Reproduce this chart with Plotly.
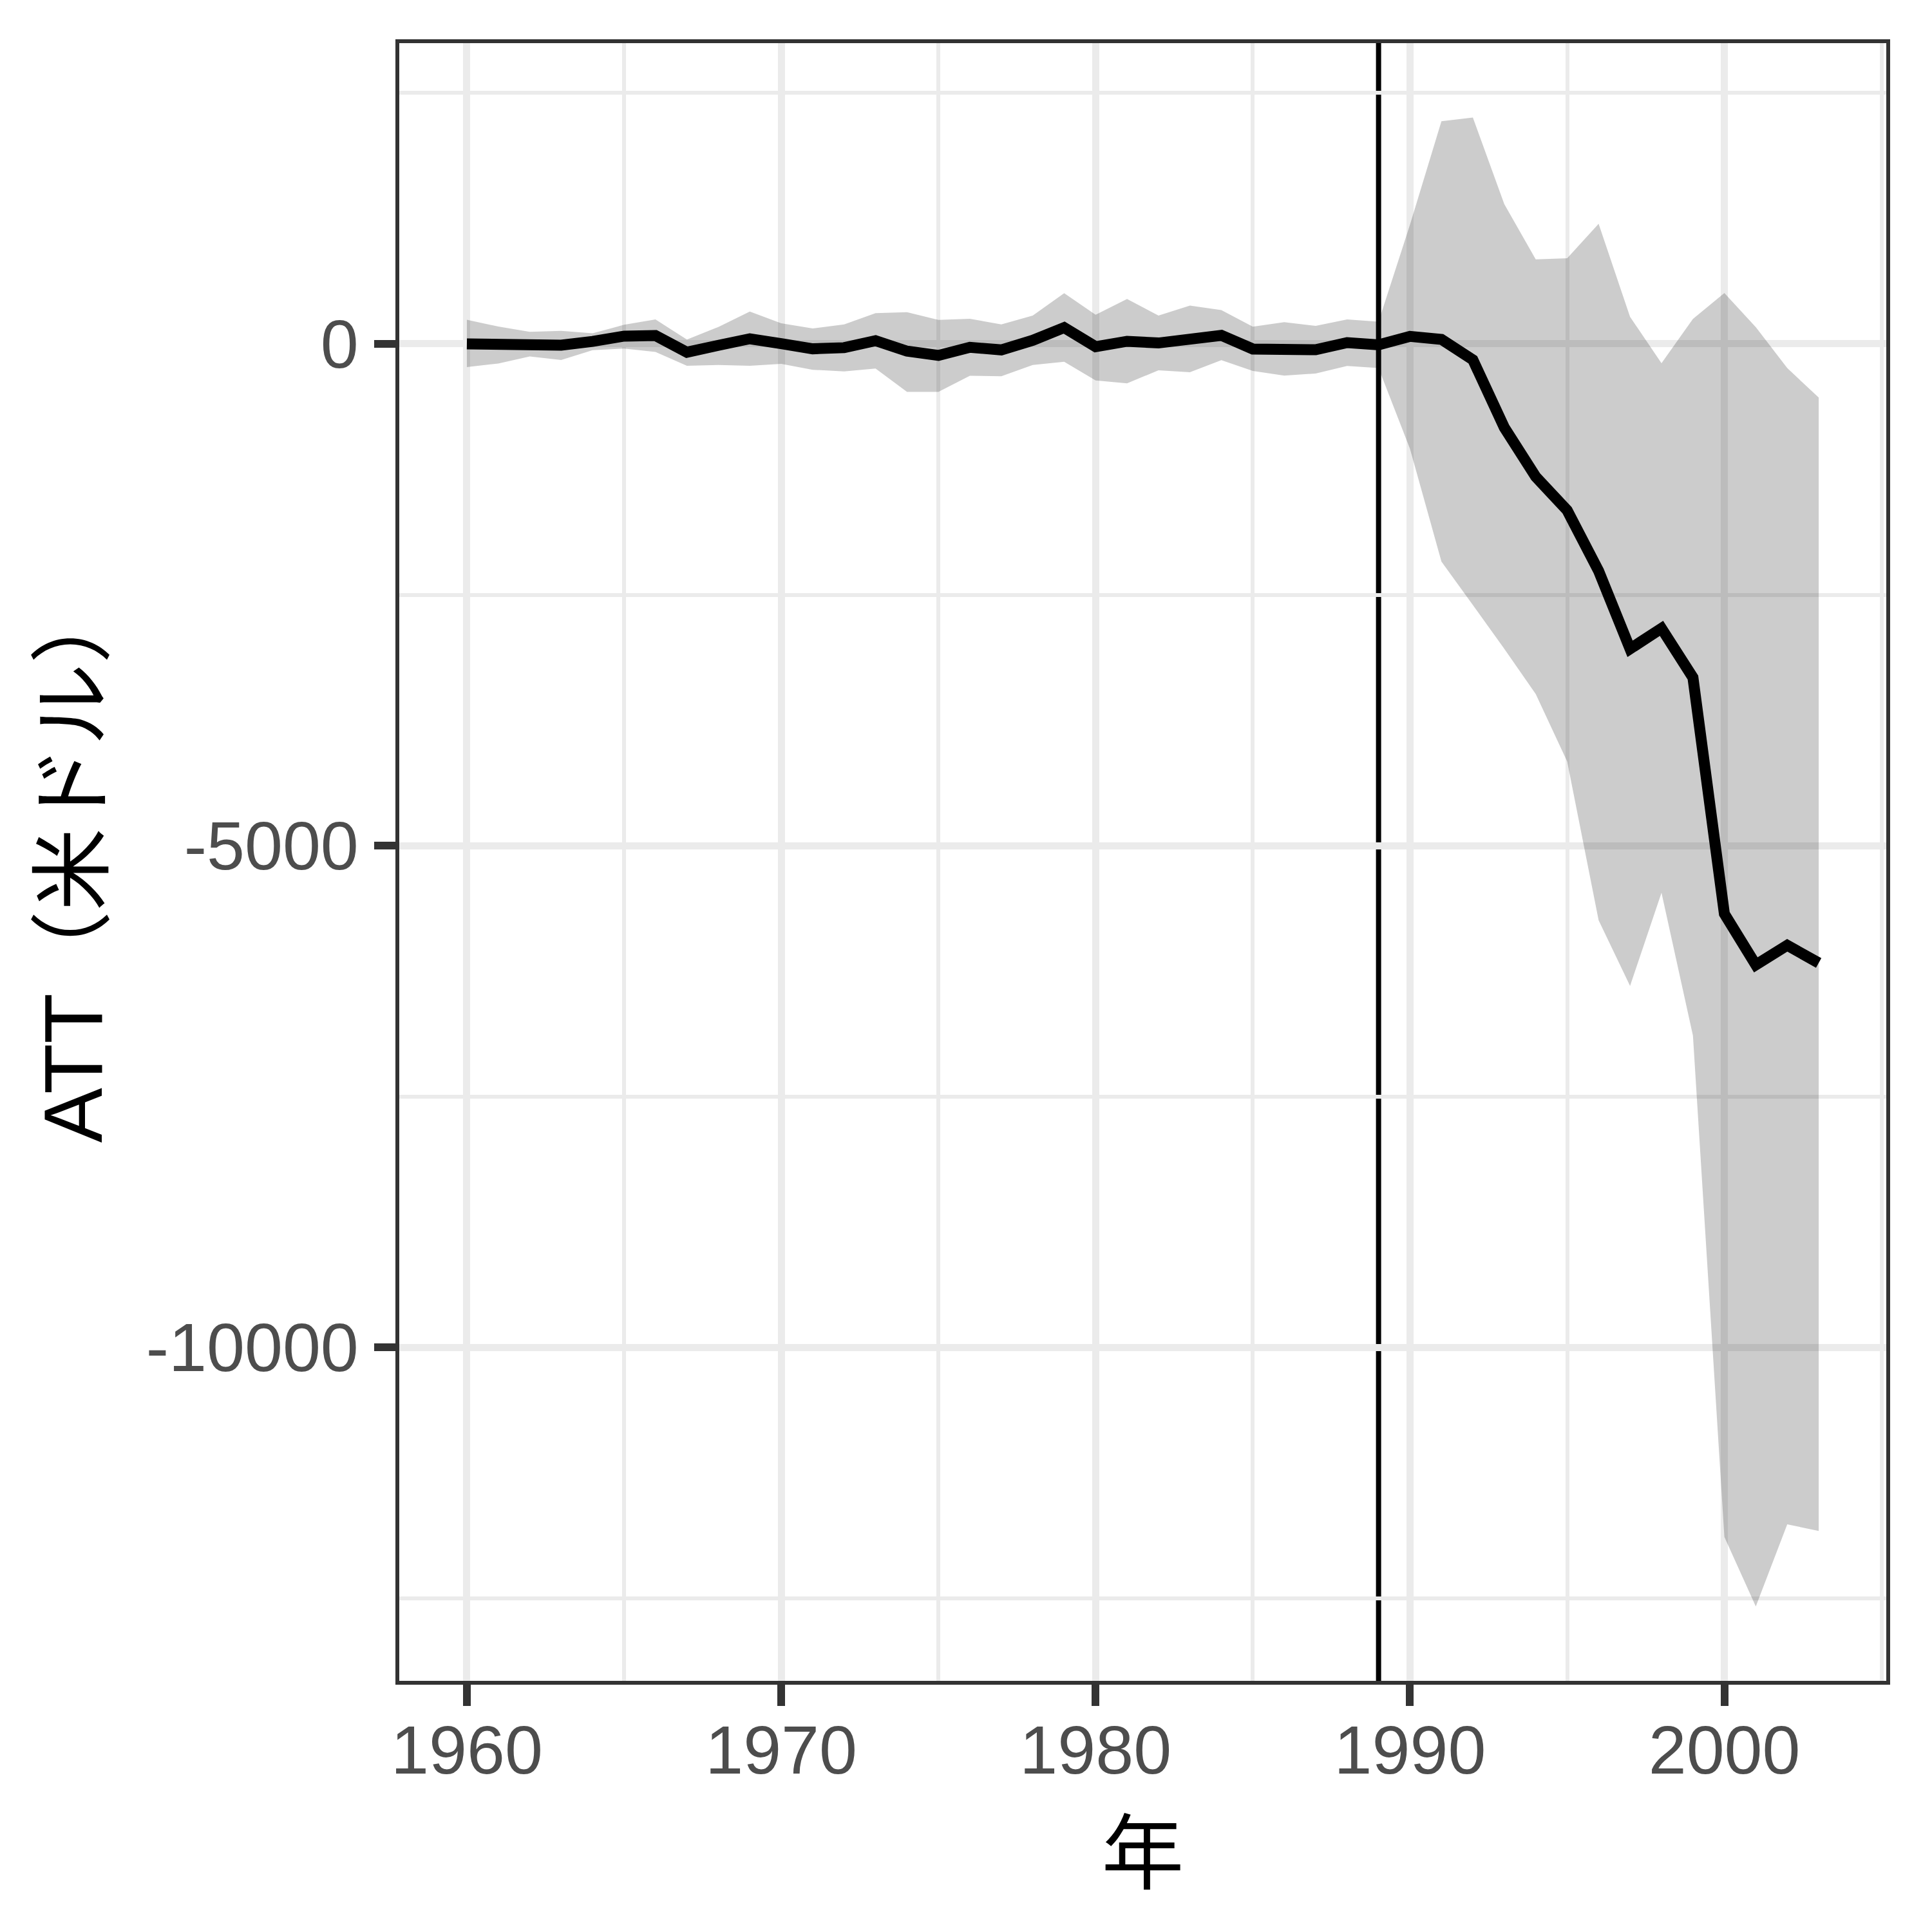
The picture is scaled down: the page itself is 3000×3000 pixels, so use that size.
import plotly.graph_objects as go

years = list(range(1960, 2004))
att = [0, -12, -5, -13, 25, 77, 83, -83, -15, 51, 2, -49, -38, 32, -72,
       -115, -34, -60, 36, 162, -28, 26, 9, 47, 85, -51, -51, -58, 13, -9,
       75, 45, -159, -833, -1324, -1659, -2263, -3039, -2835, -3325,
       -5679, -6188, -5993, -6169]
upper = [241, 173, 120, 130, 105, 190, 243, 43, 169, 322, 205, 154, 194, 307, 316,
         239, 250, 194, 282, 506, 290, 448, 282, 382, 337, 171, 216, 179, 243, 222,
         1189, 2218, 2255, 1393, 842, 854, 1197, 270, -192, 249,
         507, 167, -241, -535]
lower = [-231, -196, -126, -160, -62, -47, -81, -218, -211, -218, -199, -258, -275, -246, -478,
         -478, -318, -322, -211, -179, -365, -393, -263, -282, -162, -269, -316, -295, -220, -241,
         -1046, -2169, -2602, -3039, -3489, -4162, -5744, -6398, -5470, -6893,
         -11888, -12581, -11763, -11829]
treatment_year = 1989
x_ticks = [1960, 1970, 1980, 1990, 2000]
y_ticks = [0, -5000, -10000]

xmin, xmax = min(years), max(years)
xpad = (xmax - xmin) * 0.05
ymin, ymax = min(lower), max(upper)
ypad = (ymax - ymin) * 0.05

fig = go.Figure()
fig.add_trace(go.Scatter(x=years, y=lower, mode="lines", line=dict(width=0),
                         showlegend=False, hoverinfo="skip"))
fig.add_trace(go.Scatter(x=years, y=upper, mode="lines", line=dict(width=0),
                         fill="tonexty", fillcolor="rgba(0,0,0,0.2)",
                         showlegend=False, hoverinfo="skip"))
fig.add_trace(go.Scatter(x=years, y=att, mode="lines",
                         line=dict(color="black", width=17), showlegend=False))

fig.add_shape(type="line", xref="paper", x0=0, x1=1, yref="y", y0=0, y1=0,
              line=dict(color="black", width=9, dash="36px,36px"), layer="between")
fig.add_shape(type="line", xref="x", x0=treatment_year, x1=treatment_year,
              yref="paper", y0=0, y1=1,
              line=dict(color="black", width=8), layer="between")

axis_common = dict(
    showline=True, mirror=True, linecolor="#333333", linewidth=6,
    ticks="outside", ticklen=33, tickwidth=12, tickcolor="#333333",
    showgrid=True, gridcolor="#EBEBEB", gridwidth=11,
    zeroline=False,
    tickfont=dict(family="Liberation Sans, Arial, sans-serif", size=106, color="#4D4D4D"),
)

fig.update_xaxes(
    range=[xmin - xpad, xmax + xpad], tickvals=x_ticks,
    ticktext=[str(v) for v in x_ticks],
    minor=dict(showgrid=True, gridcolor="#EBEBEB", gridwidth=6, dtick=5, tick0=1960, ticks=""),
    title=dict(text="年", standoff=9,
               font=dict(family="Noto Sans CJK JP, Liberation Sans", size=128, color="black")),
    ticklabelstandoff=-22,
    **axis_common,
)
fig.update_yaxes(
    range=[ymin - ypad, ymax + ypad], tickvals=y_ticks,
    ticktext=[str(v) for v in y_ticks],
    minor=dict(showgrid=True, gridcolor="#EBEBEB", gridwidth=6, dtick=2500, tick0=0, ticks=""),
    title=dict(text="ATT（米ドル）", standoff=27,
               font=dict(family="Liberation Sans, Noto Sans CJK JP", size=128, color="black")),
    ticklabelstandoff=3,
    **axis_common,
)

fig.update_layout(
    width=2992, height=2992,
    margin=dict(l=612, r=71, t=59, b=390, autoexpand=False),
    plot_bgcolor="white", paper_bgcolor="white",
    showlegend=False,
)

fig.write_html("out.html")
